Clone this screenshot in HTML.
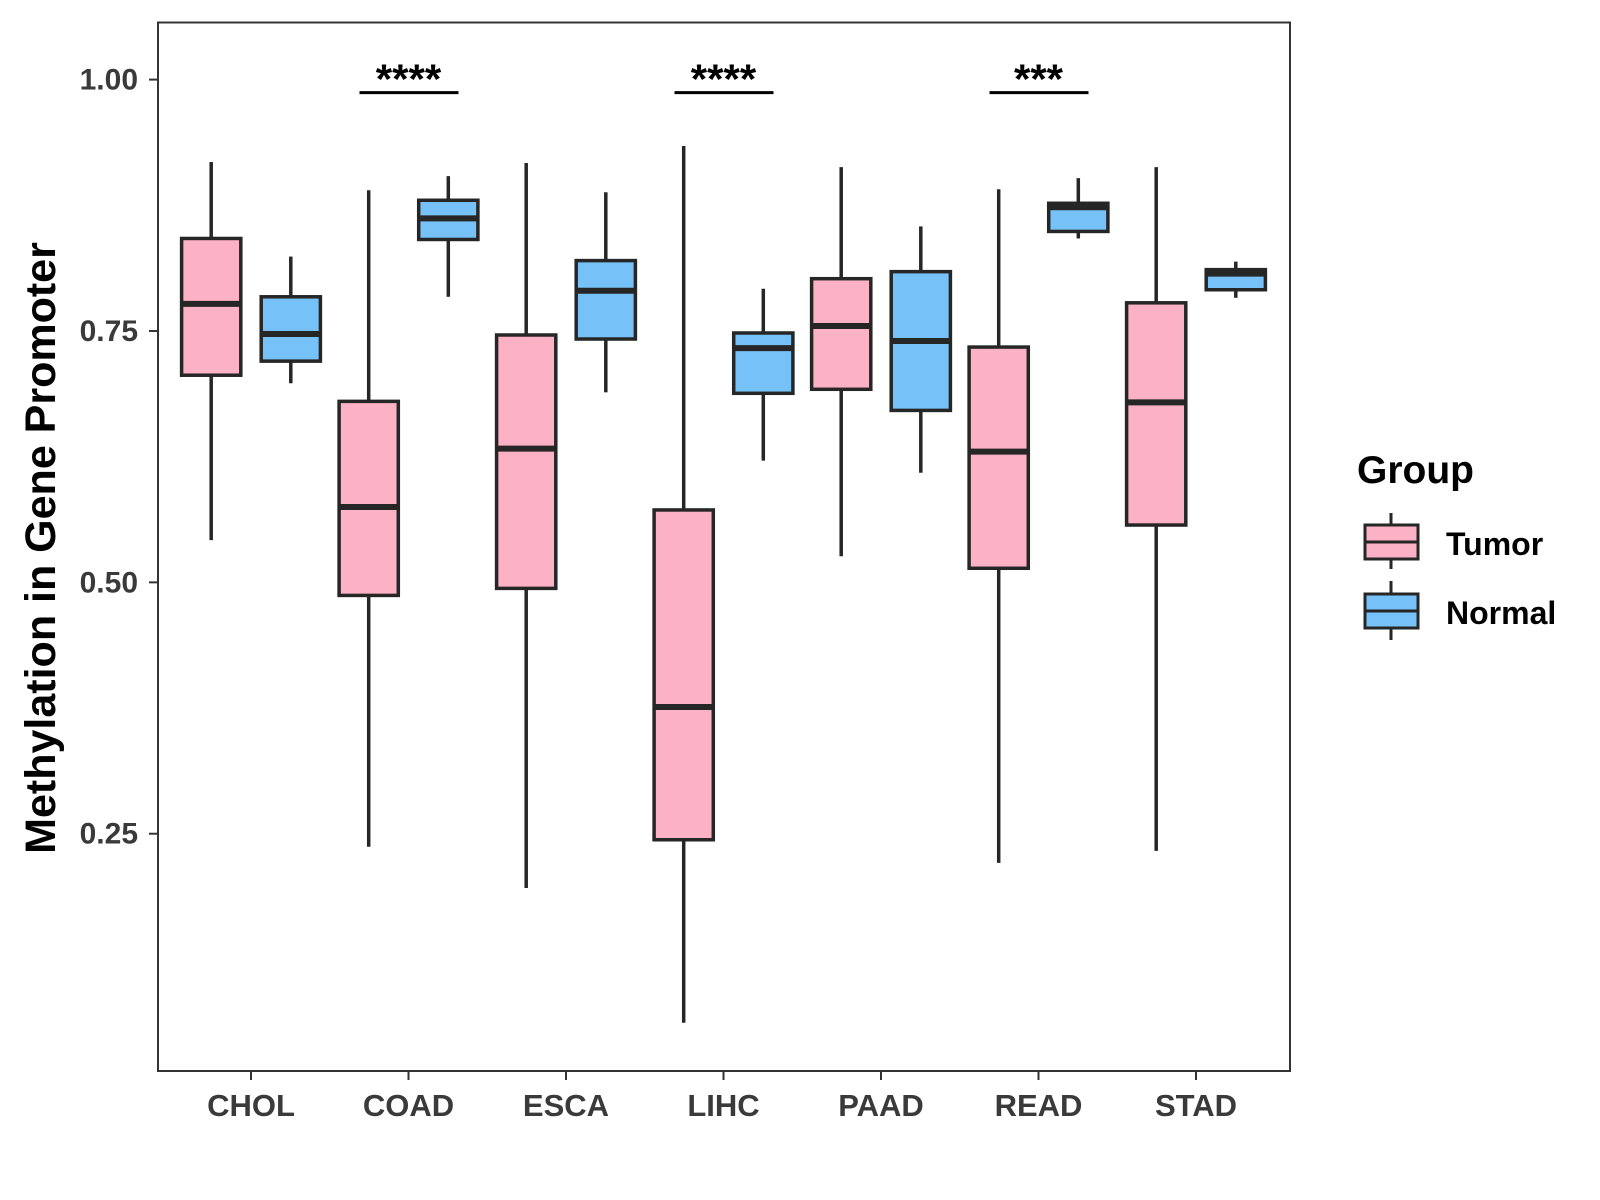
<!DOCTYPE html>
<html><head><meta charset="utf-8"><style>
body{margin:0;background:#fff;}
svg{display:block;font-family:"Liberation Sans",Arial,sans-serif;font-weight:bold;}
</style></head><body>
<svg id="chart" width="1600" height="1200">
<rect x="0" y="0" width="1600" height="1200" fill="#fff"/>
<g id="plot"></g>
<text x="0" y="0" transform="translate(55,548) rotate(-90)" text-anchor="middle" font-size="43" fill="#000">Methylation in Gene Promoter</text>
<text x="1357" y="483" font-size="39" fill="#000">Group</text>
<g>
<line x1="1391" y1="513" x2="1391" y2="569" stroke="#262626" stroke-width="3"/>
<rect x="1365" y="525" width="53" height="34" fill="#FDB1C4" stroke="#262626" stroke-width="3"/>
<line x1="1365" y1="542" x2="1418" y2="542" stroke="#262626" stroke-width="3"/>
<text x="1446" y="555" font-size="32" fill="#000">Tumor</text>
</g>
<g>
<line x1="1391" y1="581" x2="1391" y2="640" stroke="#262626" stroke-width="3"/>
<rect x="1365" y="594" width="53" height="34" fill="#76C1F8" stroke="#262626" stroke-width="3"/>
<line x1="1365" y1="611" x2="1418" y2="611" stroke="#262626" stroke-width="3"/>
<text x="1446" y="624" font-size="32" fill="#000">Normal</text>
</g>
</svg>
<script>
const categories=["CHOL","COAD","ESCA","LIHC","PAAD","READ","STAD"];
// [whiskerLow, Q1, median, Q3, whiskerHigh]
const tumorStats=[[0.542,0.706,0.777,0.842,0.918],[0.237,0.487,0.575,0.680,0.890],[0.196,0.494,0.633,0.746,0.917],[0.062,0.244,0.376,0.572,0.934],[0.526,0.692,0.755,0.802,0.913],[0.221,0.514,0.630,0.734,0.891],[0.233,0.557,0.679,0.778,0.913]];
const normalStats=[[0.698,0.720,0.747,0.784,0.824],[0.784,0.841,0.862,0.880,0.904],[0.689,0.742,0.790,0.820,0.888],[0.621,0.688,0.733,0.748,0.792],[0.609,0.671,0.740,0.809,0.854],[0.842,0.849,0.873,0.877,0.902],[0.783,0.791,0.807,0.811,0.819]];
const yTicks=[0.25,0.50,0.75,1.00];
const yTickLabels=["0.25","0.50","0.75","1.00"];
const sigCategories=["COAD","LIHC","READ"];
const sigLabels=["****","****","***"];
const sigLevel=0.987;

const NS="http://www.w3.org/2000/svg";
const plot=document.getElementById('plot');
const L=158,R=1290,T=22.5,B=1071;
function y(v){return 79.6+(1-v)*1005.5;}
function x(i){return 251+i*157.5;}
function mk(tag,attrs,parent){const e=document.createElementNS(NS,tag);for(const k in attrs)e.setAttribute(k,attrs[k]);(parent||plot).appendChild(e);return e;}

function box(cx,s,fill,name){
  const g=mk('g',{});
  
  
  const hw=29.6;
  mk('line',{x1:cx,x2:cx,y1:y(s[4]),y2:y(s[3]),stroke:'#262626','stroke-width':3.5},g);
  mk('line',{x1:cx,x2:cx,y1:y(s[1]),y2:y(s[0]),stroke:'#262626','stroke-width':3.5},g);
  mk('rect',{x:cx-hw,y:y(s[3]),width:2*hw,height:y(s[1])-y(s[3]),fill:fill,stroke:'#262626','stroke-width':3.5},g);
  mk('line',{x1:cx-hw,x2:cx+hw,y1:y(s[2]),y2:y(s[2]),stroke:'#262626','stroke-width':6},g);
}
categories.forEach((c,i)=>{
  box(x(i)-39.8,tumorStats[i],'#FDB1C4','box-tumor-'+c.toLowerCase());
  box(x(i)+39.8,normalStats[i],'#76C1F8','box-normal-'+c.toLowerCase());
  const t=mk('line',{x1:x(i),x2:x(i),y1:B,y2:B+9,stroke:'#333','stroke-width':2});
  
  
  const lb=mk('text',{x:x(i),y:B+45,'text-anchor':'middle','font-size':31,fill:'#3a3a3a'});
  lb.textContent=c;
  
  
});
yTicks.forEach((v,i)=>{
  const t=mk('line',{x1:L-9,x2:L,y1:y(v),y2:y(v),stroke:'#333','stroke-width':2});
  
  
  const lb=mk('text',{x:L-20,y:y(v)+10,'text-anchor':'end','font-size':30,fill:'#3a3a3a'});
  lb.textContent=yTickLabels[i];
  
  
});
sigCategories.forEach((c,k)=>{
  const i=categories.indexOf(c);
  const ln=mk('line',{x1:x(i)-49,x2:x(i)+50,y1:y(sigLevel),y2:y(sigLevel),stroke:'#000','stroke-width':3});
  
  
  const tx=mk('text',{x:x(i),y:y(sigLevel)+1,'text-anchor':'middle','font-size':42,fill:'#000'});
  tx.textContent=sigLabels[k];
  
  
});
const fr=mk('rect',{x:L,y:T,width:R-L,height:B-T,fill:'none',stroke:'#333','stroke-width':2});


</script>
</body></html>
